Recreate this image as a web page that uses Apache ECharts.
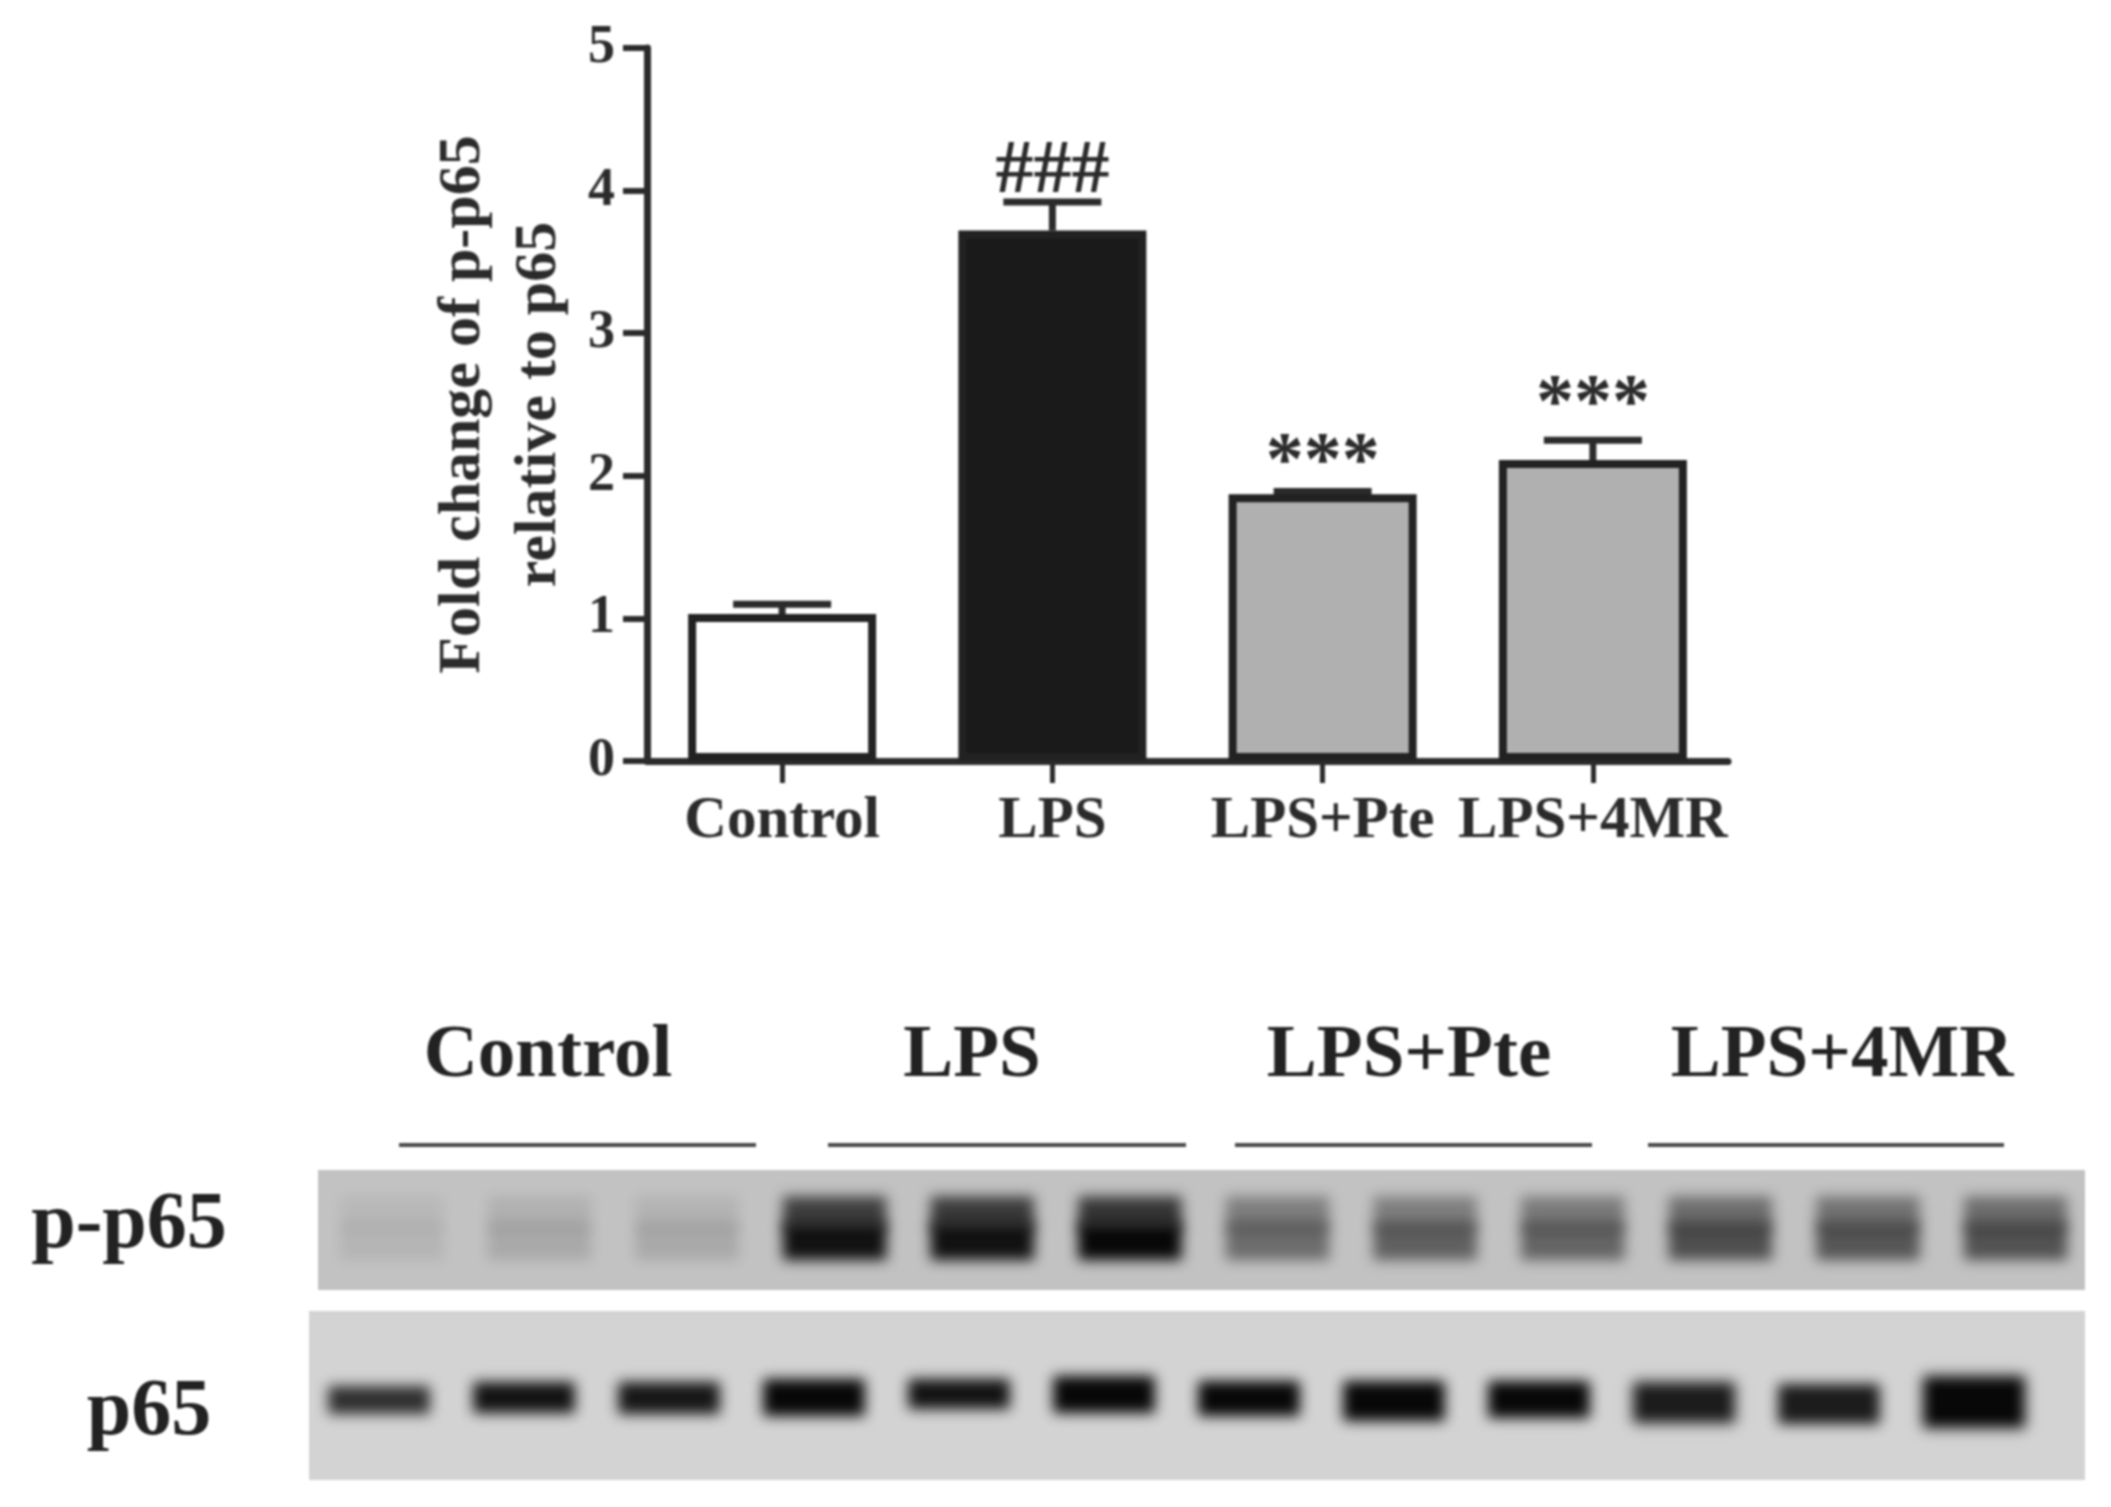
<!DOCTYPE html>
<html>
<head>
<meta charset="utf-8">
<title>p-p65 fold change</title>
<script src="https://cdn.jsdelivr.net/npm/echarts@6/dist/echarts.min.js"></script>
<style>
  html, body { margin: 0; background: #fff; }
  /* the source figure is a soft upscaled scan */
  #main { width: 2111px; height: 1507px; filter: blur(0.9px); }
</style>
</head>
<body>
<div id="main"></div>
<script>
// bar chart values
const categories = ['Control', 'LPS', 'LPS+Pte', 'LPS+4MR'];
const means = [1.03, 3.72, 1.87, 2.11];
const errorTops = [1.1, 3.92, 1.89, 2.25];
const barColors = ['#ffffff', '#1a1a1a', '#b0b0b0', '#b0b0b0'];
const marks = ['', '###', '***', '***'];
const markHeights = [null, 4.13, 2.08, 2.49];
const yTicks = [0, 1, 2, 3, 4, 5];

// blot lanes, darkness
const pP65Upper = [0.05, 0.09, 0.08, 0.7, 0.72, 0.75, 0.36, 0.36, 0.38, 0.45, 0.42, 0.45];
const pP65Lower = [0.07, 0.13, 0.13, 0.95, 0.95, 1, 0.46, 0.52, 0.5, 0.62, 0.58, 0.6];
const p65Dark = [0.8, 0.95, 0.92, 1, 0.95, 1, 1, 1, 1, 0.9, 0.9, 1];
const p65Bottom = [67, 68, 67, 65, 72, 68, 65, 60, 63, 58, 57, 53];
const p65Top = [93, 97, 97, 100, 100, 103, 98, 98, 98, 97, 95, 103];
const laneIds = [0, 1, 2, 3, 4, 5, 6, 7, 8, 9, 10, 11];

const serif = '"Liberation Serif", "Times New Roman", serif';
const ink = '#2b2b2b';

function errorItem(params, api) {
  const top = api.coord([api.value(0), api.value(2)]);
  const base = api.coord([api.value(0), api.value(1)]);
  const cap = 49;
  const line = { stroke: ink, lineWidth: 7 };
  return {
    type: 'group',
    children: [
      { type: 'line', shape: { x1: top[0], y1: base[1], x2: top[0], y2: top[1] }, style: line },
      { type: 'line', shape: { x1: top[0] - cap, y1: top[1], x2: top[0] + cap, y2: top[1] }, style: line }
    ]
  };
}

// a soft band: the rect sits off the page and only its blurred shadow lands on the blot
function bandItem(params, api) {
  const p1 = api.coord([api.value(0), api.value(2)]);
  const p2 = api.coord([api.value(0), api.value(1)]);
  const w = api.size([1, 0])[0] * 0.7;
  return {
    type: 'rect',
    shape: { x: p1[0] - w / 2 - 4000, y: p1[1], width: w, height: p2[1] - p1[1] },
    style: {
      fill: '#000',
      shadowBlur: 13,
      shadowOffsetX: 4000,
      shadowColor: 'rgba(8,8,8,' + api.value(3) + ')'
    }
  };
}

function hiddenAxis(i, min, max) {
  return { type: 'value', gridIndex: i, min: min, max: max, show: false };
}

const chart = echarts.init(document.getElementById('main'), null, { renderer: 'canvas' });

const headerTexts = [
  ['Control', 548], ['LPS', 972], ['LPS+Pte', 1409], ['LPS+4MR', 1842]
];
const headerLines = [[399, 756], [828, 1186], [1235, 1592], [1648, 2004]];

chart.setOption({
  animation: false,
  backgroundColor: '#fff',
  grid: [
    { left: 647, top: 48, width: 1081, height: 713 },
    { left: 318, top: 1170, width: 1767, height: 120, show: true, backgroundColor: '#c2c2c2', borderWidth: 0 },
    { left: 309, top: 1311, width: 1776, height: 169, show: true, backgroundColor: '#d3d3d3', borderWidth: 0 }
  ],
  xAxis: [
    {
      type: 'category',
      gridIndex: 0,
      data: categories,
      axisLine: { lineStyle: { color: ink, width: 7 } },
      axisTick: { show: true, alignWithLabel: true, length: 22, lineStyle: { color: ink, width: 5 } },
      axisLabel: { color: ink, fontFamily: serif, fontWeight: 'bold', fontSize: 59, margin: 31, interval: 0 }
    },
    hiddenAxis(1, -0.5, 11.47),
    hiddenAxis(2, -0.483, 11.766)
  ],
  yAxis: [
    {
      type: 'value',
      gridIndex: 0,
      min: 0,
      max: 5,
      interval: 1,
      name: 'Fold change of p-p65\nrelative to p65',
      nameLocation: 'middle',
      nameGap: 70,
      nameRotate: 90,
      nameTextStyle: { color: ink, fontFamily: serif, fontWeight: 'bold', fontSize: 60, lineHeight: 76 },
      splitLine: { show: false },
      axisLine: { show: true, lineStyle: { color: ink, width: 7 } },
      axisTick: { show: true, length: 24, lineStyle: { color: ink, width: 6 } },
      axisLabel: {
        color: ink, fontFamily: serif, fontWeight: 'bold', fontSize: 54, margin: 32,
        padding: [8, 0, 0, 0],
        customValues: yTicks
      }
    },
    hiddenAxis(1, 0, 1),
    hiddenAxis(2, 0, 169)
  ],
  series: [
    {
      type: 'custom',
      xAxisIndex: 0,
      yAxisIndex: 0,
      renderItem: errorItem,
      data: categories.map((c, i) => [i, means[i], errorTops[i]]),
      encode: { x: 0, y: 2 },
      z: 1,
      silent: true
    },
    {
      type: 'bar',
      xAxisIndex: 0,
      yAxisIndex: 0,
      barWidth: 188,
      data: means.map((v, i) => ({
        value: v,
        itemStyle: { color: barColors[i], borderColor: '#222', borderWidth: 8 }
      })),
      z: 2
    },
    {
      type: 'scatter',
      xAxisIndex: 0,
      yAxisIndex: 0,
      symbolSize: 0,
      itemStyle: { opacity: 1 },
      data: markHeights.map((h, i) => [i, h]).filter(d => d[1] !== null),
      label: {
        show: true,
        position: 'inside',
        formatter: p => marks[p.data[0]],
        color: ink,
        opacity: 1,
        fontFamily: serif,
        fontWeight: 'bold',
        fontSize: 76
      },
      z: 3
    },
    {
      type: 'custom',
      xAxisIndex: 1,
      yAxisIndex: 1,
      renderItem: bandItem,
      data: laneIds.map(i => [i, 0.5, 0.78, pP65Upper[i]]),
      silent: true
    },
    {
      type: 'custom',
      xAxisIndex: 1,
      yAxisIndex: 1,
      renderItem: bandItem,
      data: laneIds.map(i => [i, 0.25, 0.56, pP65Lower[i]]),
      silent: true
    },
    {
      type: 'custom',
      xAxisIndex: 2,
      yAxisIndex: 2,
      renderItem: bandItem,
      data: laneIds.map(i => [i, p65Bottom[i] - 1, p65Top[i] + 1, p65Dark[i]]),
      silent: true
    }
  ],
  graphic: [
    ...headerTexts.map(h => ({
      type: 'text',
      x: h[1],
      y: 1057,
      style: {
        text: h[0], fill: '#222', font: 'bold 75px ' + serif,
        textAlign: 'center', textVerticalAlign: 'middle'
      }
    })),
    ...headerLines.map(l => ({
      type: 'line',
      shape: { x1: l[0], y1: 1145, x2: l[1], y2: 1145 },
      style: { stroke: '#4a4a4a', lineWidth: 4 }
    })),
    {
      type: 'text', x: 129, y: 1226,
      style: { text: 'p-p65', fill: '#222', font: 'bold 80px ' + serif, textAlign: 'center', textVerticalAlign: 'middle' }
    },
    {
      type: 'text', x: 149, y: 1413,
      style: { text: 'p65', fill: '#222', font: 'bold 80px ' + serif, textAlign: 'center', textVerticalAlign: 'middle' }
    }
  ]
});
</script>
</body>
</html>
